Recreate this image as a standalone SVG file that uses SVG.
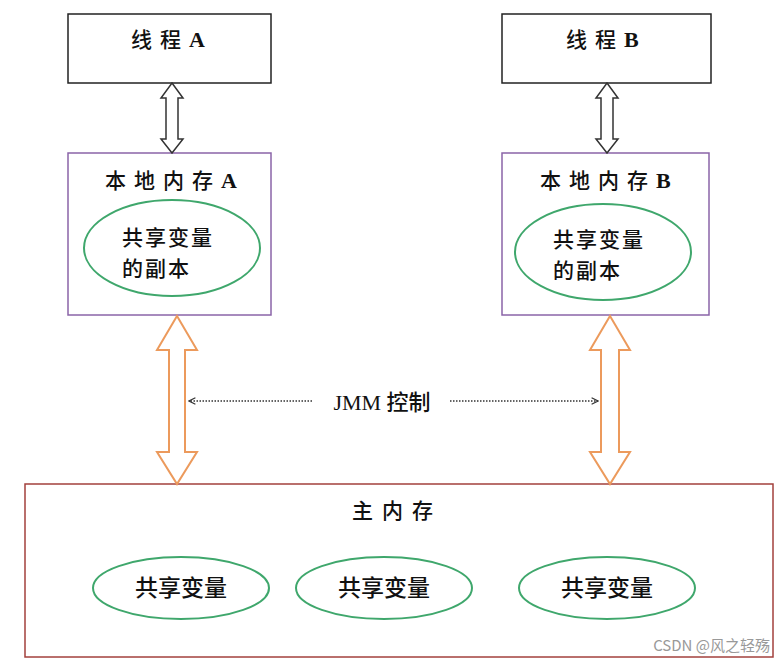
<svg xmlns="http://www.w3.org/2000/svg" width="783" height="664" viewBox="0 0 783 664">
<defs>
<style>
.thread{fill:#fff;stroke:#222;stroke-width:1.5}
.local{fill:#fff;stroke:#8a64a8;stroke-width:1.5}
.main{fill:#fff;stroke:#a3403c;stroke-width:1.5}
.ell{fill:#fff;stroke:#3fa76c;stroke-width:2}
.t{font-family:"Noto Sans CJK SC","Liberation Sans",sans-serif;font-size:21px;font-weight:500;fill:#111}
.e{font-family:"Noto Sans CJK SC","Liberation Sans",sans-serif;font-size:23px;font-weight:500;fill:#111}
.e2{font-family:"Noto Sans CJK SC","Liberation Sans",sans-serif;font-size:21px;font-weight:500;fill:#111;letter-spacing:2px}
.lat{font-family:"Liberation Serif",serif;font-weight:bold;font-size:22px}
.darr{fill:#fff;stroke:#333;stroke-width:1.5}
.oarr{fill:#fff;stroke:#ec9a5c;stroke-width:2}
.dot{stroke:#333;stroke-width:1.5;stroke-dasharray:1.5 1.5;fill:none}
</style>
<marker id="ah" viewBox="0 0 10 10" refX="9" refY="5" markerWidth="8" markerHeight="8" orient="auto-start-reverse" markerUnits="userSpaceOnUse">
<path d="M1,1 L9,5 L1,9" fill="none" stroke="#333" stroke-width="1.5"/>
</marker>
</defs>
<rect width="783" height="664" fill="#fff"/>

<g id="threadA">
<rect class="thread" x="68" y="14" width="203" height="69"/>
<text class="t" x="131" y="47" letter-spacing="8">线程<tspan class="lat">A</tspan></text>
</g>
<g id="threadB">
<rect class="thread" x="502" y="14" width="209" height="69"/>
<text class="t" x="566" y="47" letter-spacing="8">线程<tspan class="lat">B</tspan></text>
</g>

<g id="localA">
<rect class="local" x="68" y="153" width="203" height="162"/>
<text class="t" x="105" y="188" letter-spacing="8">本地内存<tspan class="lat">A</tspan></text>
<ellipse class="ell" cx="172" cy="248" rx="88" ry="48"/>
<text class="e2" x="122" y="245">共享变量</text>
<text class="e2" x="122" y="276">的副本</text>
</g>
<g id="localB">
<rect class="local" x="502" y="153" width="207" height="162"/>
<text class="t" x="540" y="188" letter-spacing="8">本地内存<tspan class="lat">B</tspan></text>
<ellipse class="ell" cx="603" cy="252" rx="88" ry="48"/>
<text class="e2" x="553" y="247">共享变量</text>
<text class="e2" x="553" y="278">的副本</text>
</g>

<g id="mainMemory">
<rect class="main" x="25" y="484" width="748" height="173"/>
<text class="t" x="352" y="518" letter-spacing="9">主内存</text>
<ellipse class="ell" cx="181" cy="588" rx="88" ry="31"/>
<text class="e" x="181" y="596" text-anchor="middle">共享变量</text>
<ellipse class="ell" cx="384" cy="588" rx="88" ry="31"/>
<text class="e" x="384" y="596" text-anchor="middle">共享变量</text>
<ellipse class="ell" cx="607" cy="588" rx="88" ry="31"/>
<text class="e" x="607" y="596" text-anchor="middle">共享变量</text>
</g>

<g id="connectors">
<path class="darr" d="M172,83 L183,98 L178,98 L178,139 L183,139 L172,153 L161,139 L166,139 L166,98 L161,98 Z"/>
<path class="darr" d="M607,83 L618,98 L613,98 L613,139 L618,139 L607,153 L596,139 L601,139 L601,98 L596,98 Z"/>
<path class="oarr" d="M177,316 L197,350 L185,350 L185,452 L197,452 L177,484 L157,452 L169,452 L169,350 L157,350 Z"/>
<path class="oarr" d="M610,316 L630,350 L619,350 L619,452 L630,452 L610,484 L590,452 L601,452 L601,350 L590,350 Z"/>
<line class="dot" x1="312" y1="401" x2="189" y2="401" marker-end="url(#ah)"/>
<line class="dot" x1="450" y1="401" x2="598" y2="401" marker-end="url(#ah)"/>
<text x="382" y="410" text-anchor="middle" style="font-size:22px;fill:#111"><tspan style="font-family:'Liberation Serif',serif">JMM </tspan><tspan style="font-family:'Noto Sans CJK SC',sans-serif;font-weight:500">控制</tspan></text>
</g>

<text x="770" y="651" text-anchor="end" style="font-family:'Noto Sans CJK SC','Liberation Sans',sans-serif;font-size:15px;fill:#999">CSDN @风之轻殇</text>
</svg>
